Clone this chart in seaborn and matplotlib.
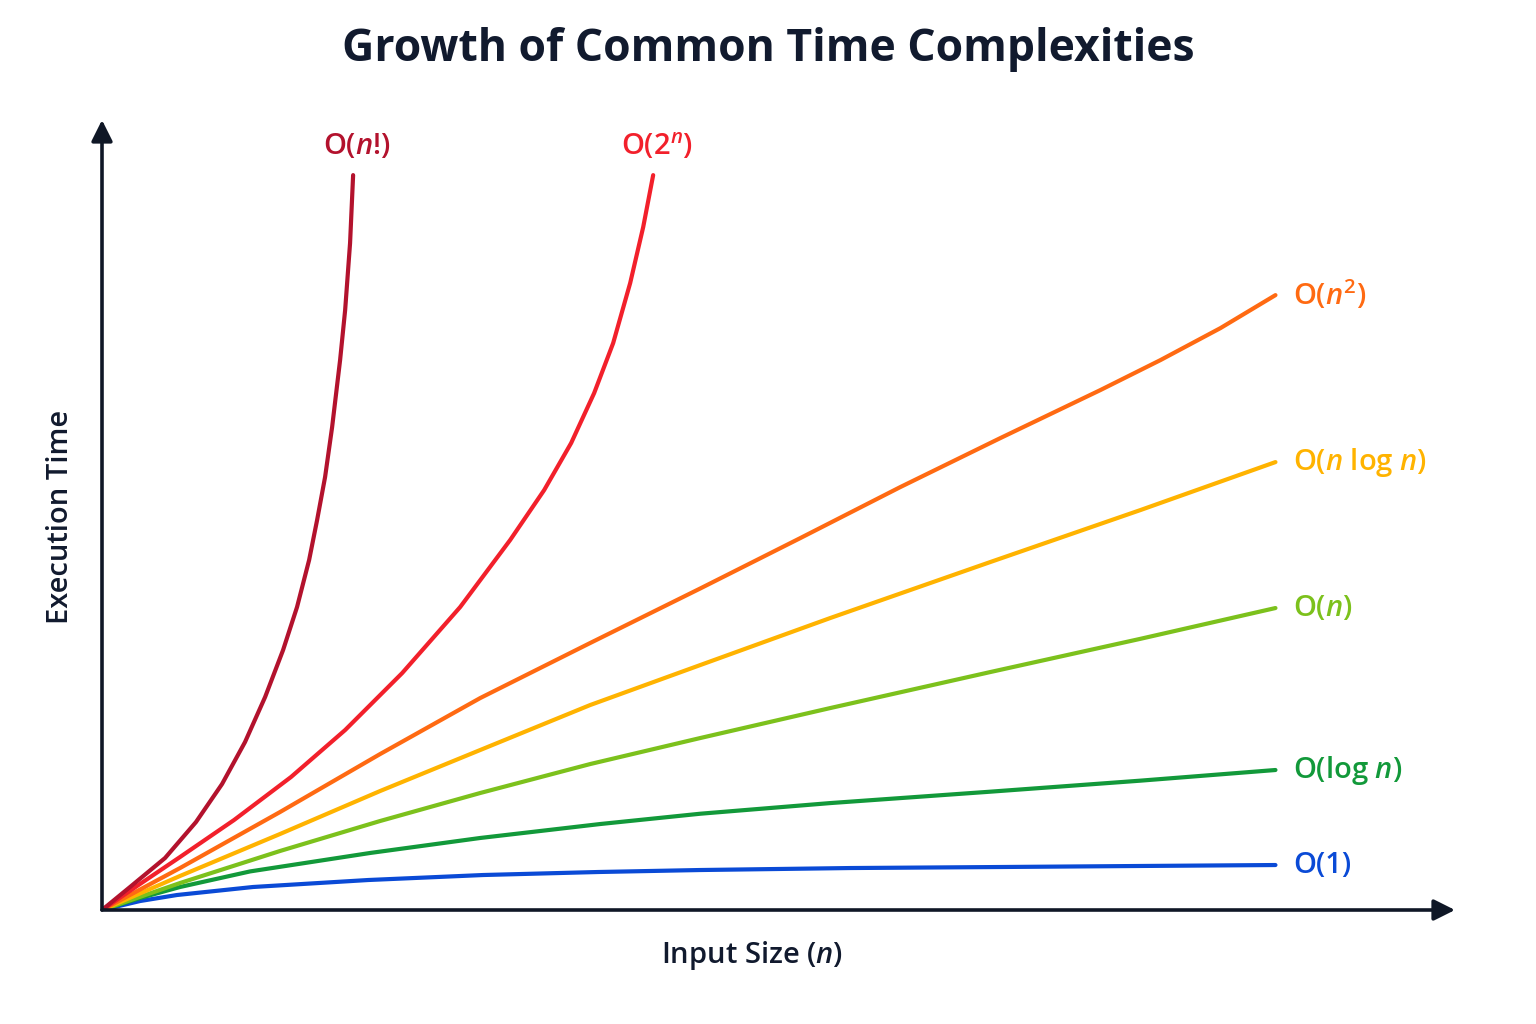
import pandas as pd
import matplotlib.pyplot as plt
import seaborn as sns

# Values (x: input size 0-100, y: execution time 0-100)
const_x = [0, 3.24, 6.39, 12.87, 22.68, 32.48, 42.28, 50.98, 63.77, 76.56, 88.49, 100]
const_y = [0, 1.22, 2.04, 3.13, 4.08, 4.76, 5.17, 5.44, 5.71, 5.85, 5.99, 6.12]

log_x = [0, 3.24, 6.65, 12.62, 22.85, 32.23, 42.46, 50.98, 62.06, 75.70, 88.49, 100]
log_y = [0, 1.63, 3.13, 5.25, 7.76, 9.80, 11.70, 13.10, 14.55, 16.10, 17.60, 19.05]

lin_x = [0, 6.65, 15.17, 23.70, 32.23, 41.60, 50.98, 62.06, 75.70, 88.49, 100]
lin_y = [0, 3.67, 8.03, 12.11, 15.92, 19.86, 23.40, 27.48, 32.38, 36.90, 41.09]

nlogn_x = [0, 6.65, 15.17, 23.70, 32.23, 41.60, 50.98, 62.06, 75.70, 88.49, 100]
nlogn_y = [0, 4.63, 10.34, 16.19, 21.77, 27.89, 33.33, 39.73, 47.35, 54.42, 60.95]

quad_x = [0, 6.65, 15.17, 23.70, 32.23, 41.60, 50.98, 59.51, 68.03, 76.56, 85.08, 90.20, 95.31, 100]
quad_y = [0, 5.71, 13.33, 21.22, 28.84, 36.33, 43.75, 50.61, 57.55, 64.22, 70.75, 74.83, 79.18, 83.67]

exp_x = [0, 3.24, 6.65, 11.25, 16.11, 20.72, 25.58, 30.52, 34.78, 37.68, 39.98, 41.94,
         43.56, 45.01, 46.12, 46.97]
exp_y = [0, 3.54, 7.21, 12.24, 18.10, 24.49, 32.24, 41.22, 50.34, 57.14, 63.54, 70.34,
         77.14, 85.31, 92.93, 100]

fact_x = [0, 2.39, 5.37, 8.01, 10.23, 12.19, 13.90, 15.43, 16.62, 17.65, 18.33, 19.01,
          19.61, 20.29, 20.72, 21.14, 21.40]
fact_y = [0, 3.13, 7.07, 11.97, 17.14, 22.86, 28.98, 35.37, 41.22, 47.62, 53.06, 58.91,
          65.71, 74.83, 81.63, 90.75, 100]

names = ['O(1)', 'O(log n)', 'O(n)', 'O(n log n)', 'O(n^2)', 'O(2^n)', 'O(n!)']
labels = [r'O(1)', r'O(log $\mathit{n}$)', r'O($\mathit{n}$)', r'O($\mathit{n}$ log $\mathit{n}$)',
          r'O($\mathit{n}^{2}$)', r'O($2^{\mathit{n}}$)', r'O($\mathit{n}$!)']
colors = ['#0a4ad6', '#12993a', '#7cc11c', '#ffb300', '#ff6a12', '#f2202b', '#b3122d']
xs = [const_x, log_x, lin_x, nlogn_x, quad_x, exp_x, fact_x]
ys = [const_y, log_y, lin_y, nlogn_y, quad_y, exp_y, fact_y]

frames = []
for name, x, y in zip(names, xs, ys):
    frames.append(pd.DataFrame({'n': x, 'time': y, 'complexity': name}))
df = pd.concat(frames, ignore_index=True)

sns.set_theme(style='white')
plt.rcParams['font.family'] = ['Open Sans', 'DejaVu Sans']
plt.rcParams['mathtext.fontset'] = 'custom'
plt.rcParams['mathtext.rm'] = 'Open Sans:semibold'
plt.rcParams['mathtext.it'] = 'Open Sans:italic:semibold'

fig = plt.figure(figsize=(15.36, 10.24), dpi=100)
fig.patch.set_facecolor('white')
ax = fig.add_axes([102 / 1536, 114 / 1024, 1353 / 1536, 790 / 1024])

sns.lineplot(data=df, x='n', y='time', hue='complexity', palette=dict(zip(names, colors)),
             linewidth=3, legend=False, ax=ax, solid_capstyle='round', solid_joinstyle='round')

ax.set_xlim(0, 115.3)
ax.set_ylim(0, 107.5)
for s in ax.spines.values():
    s.set_visible(False)
ax.set_xticks([])
ax.set_yticks([])
ax.set_xlabel('')
ax.set_ylabel('')

axis_color = '#0f1726'
ax.annotate('', xy=(1, 0), xytext=(0, 0), xycoords='axes fraction',
            arrowprops=dict(arrowstyle='-|>', mutation_scale=32, lw=2.6, color=axis_color,
                            shrinkA=0, shrinkB=0), annotation_clip=False)
ax.annotate('', xy=(0, 1), xytext=(0, 0), xycoords='axes fraction',
            arrowprops=dict(arrowstyle='-|>', mutation_scale=32, lw=2.6, color=axis_color,
                            shrinkA=0, shrinkB=0), annotation_clip=False)

# curve labels
for lab, col, x, y in zip(labels, colors, xs, ys):
    if y[-1] >= 100:
        ax.text(x[-1] + 0.3, y[-1] + 3.9, lab, color=col, fontsize=21, fontweight='semibold',
                ha='center', va='center')
    else:
        ax.text(x[-1] + 1.5, y[-1], lab, color=col, fontsize=21, fontweight='semibold',
                ha='left', va='center')

fig.text(768 / 1536, 1 - 50 / 1024, 'Growth of Common Time Complexities', ha='center', va='center',
         fontsize=32, fontweight='bold', color='#111a2e')
fig.text(752 / 1536, 1 - 956 / 1024, r'Input Size ($\mathit{n}$)', ha='center', va='center',
         fontsize=21, fontweight='semibold', color='#111a2e')
fig.text(61 / 1536, 1 - 517 / 1024, 'Execution Time', ha='center', va='center', rotation=90,
         fontsize=21, fontweight='semibold', color='#111a2e')

fig.savefig('out.png', dpi=100, facecolor='white')
